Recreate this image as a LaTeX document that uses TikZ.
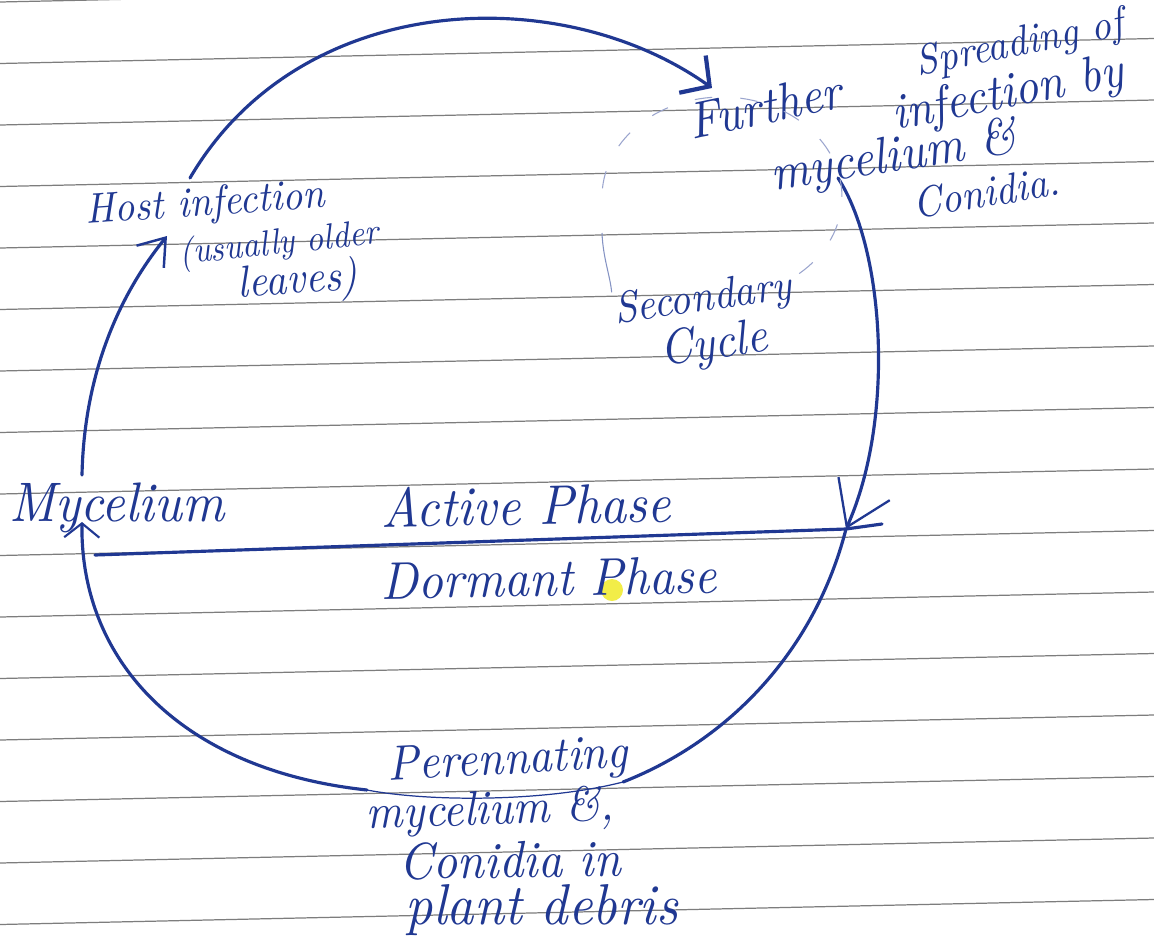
\documentclass[tikz,border=0pt]{standalone}
\usepackage{graphicx}
\usetikzlibrary{arrows.meta,calc}

\definecolor{ink}{RGB}{32,56,146}
\definecolor{ruling}{RGB}{125,125,125}
\definecolor{marker}{RGB}{240,235,40}

% one drawing unit = one pixel of the page
\newlength\pxu
\setlength\pxu{0.02cm}
% handwritten label: scaled to a given width, letters a little taller
\newcommand{\hand}[2]{\scalebox{1}[1.08]{\resizebox{#1\pxu}{!}{\itshape #2}}}

\begin{document}
\begin{tikzpicture}[x=0.02cm,y=-0.02cm,
  lbl/.style={inner sep=0pt, text=ink, anchor=center},
  pen/.style={draw=ink, line width=1.8pt, line cap=round},
  finepen/.style={draw=ink, line width=0.7pt, line cap=round},
  dotted cycle/.style={draw=ink!45, line width=0.6pt, dash pattern=on 10pt off 16pt},
  paperline/.style={draw=ruling, line width=0.7pt}]

% page
\fill[white] (0,0) rectangle (1154,944);
\useasboundingbox (0,0) rectangle (1154,944);

% ruled lines of the notebook page
\foreach \k in {0,...,15}
  \draw[paperline] (0,{2+61.5*\k}) -- (1154,{2+61.5*\k-25});

% marker spot on the word "Phase"
\fill[marker, opacity=0.85] (612,590) circle (11);

% ---- labels ----
\node[lbl, rotate=4]  (host)    at (205,205) {\hand{240}{Host infection}};
\node[lbl, rotate=6]  (usually) at (279,245) {\hand{200}{(usually older}};
\node[lbl, rotate=4]  (leaves)  at (298,282) {\hand{120}{leaves)}};
\node[lbl]            (myc)     at (117,508) {\hand{215}{Mycelium}};
\node[lbl, rotate=1]  (active)  at (526,505) {\hand{290}{Active Phase}};
\node[lbl, rotate=1]  (dormant) at (549,578) {\hand{335}{Dormant Phase}};
\node[lbl, rotate=12] (further) at (765,106) {\hand{155}{Further}};
\node[lbl, rotate=11] (spread)  at (1020,45) {\hand{210}{Spreading of}};
\node[lbl, rotate=11] (infby)   at (1008,95) {\hand{235}{infection by}};
\node[lbl, rotate=9]  (mycamp)  at (894,158) {\hand{248}{mycelium \&}};
\node[lbl, rotate=9]  (conid)   at (986,192) {\hand{148}{Conidia.}};
\node[lbl, rotate=8]  (second)  at (703,300) {\hand{178}{Secondary}};
\node[lbl, rotate=8]  (cycle)   at (714,346) {\hand{108}{Cycle}};
\node[lbl, rotate=3]  (perenn)  at (508,762) {\hand{240}{Perennating}};
\node[lbl, rotate=2]  (mycamp2) at (490,812) {\hand{248}{mycelium \&,}};
\node[lbl, rotate=1]  (conin)   at (510,860) {\hand{222}{Conidia in}};
\node[lbl]            (plant)   at (542,910) {\hand{272}{plant debris}};

% ---- connector end points ----
\coordinate (mycTop)    at (82,475);
\coordinate (mycBot)    at (82,522);
\coordinate (hostIn)    at (167,236);
\coordinate (hostOut)   at (190,178);
\coordinate (furtherIn) at (712,88);
\coordinate (sporeOut)  at (838,178);
\coordinate (cross)     at (846,529);
\coordinate (divStart)  at (95,555);
\coordinate (perIn)     at (623,782);
\coordinate (perOut)    at (367,790);

% ---- the disease cycle ----
% mycelium -> host infection
\draw[pen, -{Straight Barb[length=14pt,width=20pt,line width=1.4pt]}]
  (mycTop) .. controls (84,380) and (115,300) .. (hostIn);
% host infection -> further spreading
\draw[pen, -{Straight Barb[length=12pt,width=26pt,line width=2.4pt]}]
  (hostOut) .. controls (300,-10) and (560,-20) .. (furtherIn);
% spreading -> end of the active phase
\draw[pen, -{Straight Barb[length=24pt,width=32pt,line width=1.3pt]}]
  (sporeOut) .. controls (885,250) and (895,420) .. (cross);
% active / dormant divide
\draw[pen] (divStart) -- (cross) -- ++(36,-5);
% into the perennating stage
\draw[pen] (cross) .. controls (815,650) and (730,740) .. (perIn);
\draw[finepen] (perOut) .. controls (430,802) and (545,802) .. (perIn);
% perennating stage -> mycelium
\draw[pen, -{Straight Barb[length=8pt,width=20pt,line width=1.2pt]}]
  (perOut) .. controls (180,770) and (80,660) .. (mycBot);

% ---- secondary cycle ----
\draw[dotted cycle] plot[domain=185:410, samples=80]
  ({722+120*cos(\x)},{197+100*sin(\x)});
\draw[draw=ink!55, line width=0.6pt]
  (602,233) .. controls (603,258) and (610,275) .. (second.north west);
\end{tikzpicture}
\end{document}
